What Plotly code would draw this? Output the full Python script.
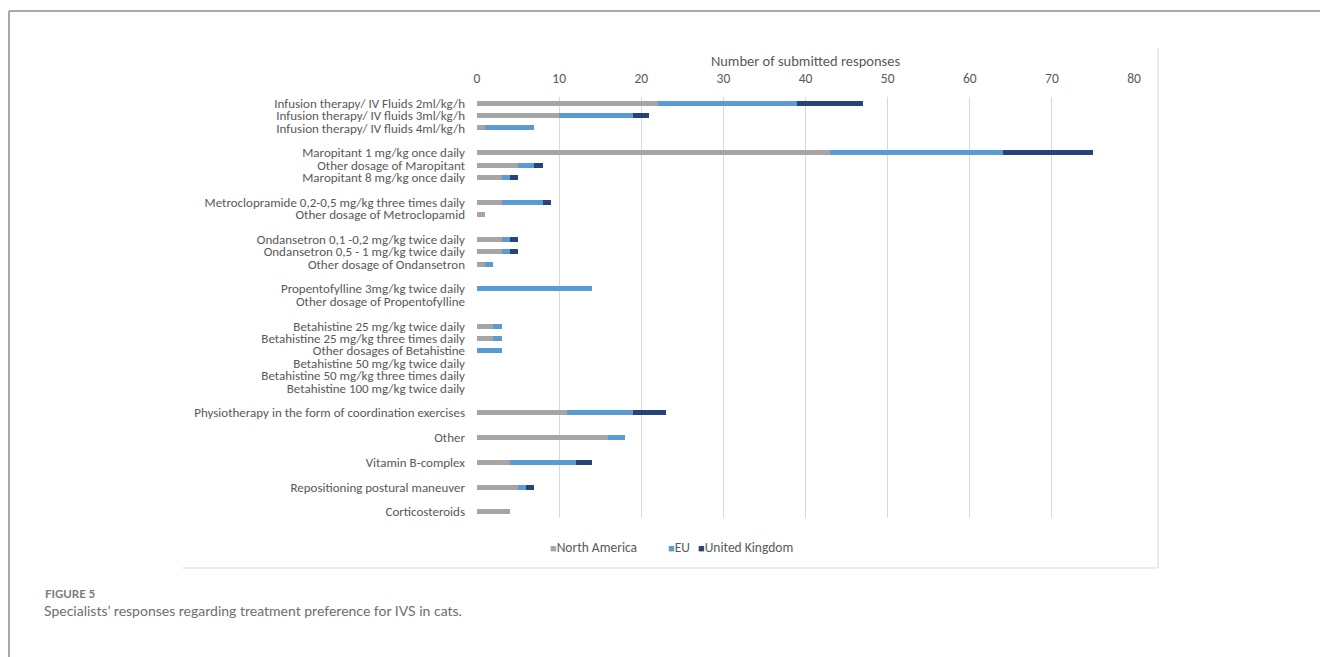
import plotly.graph_objects as go

# Groups of treatments (a blank row separates consecutive groups)
groups = [
    ["Infusion therapy/ IV Fluids 2ml/kg/h",
     "Infusion therapy/ IV fluids 3ml/kg/h",
     "Infusion therapy/ IV fluids 4ml/kg/h"],
    ["Maropitant 1 mg/kg once daily",
     "Other dosage of Maropitant",
     "Maropitant 8 mg/kg once daily"],
    ["Metroclopramide 0,2-0,5 mg/kg three times daily",
     "Other dosage of Metroclopamid"],
    ["Ondansetron 0,1 -0,2 mg/kg twice daily",
     "Ondansetron 0,5 - 1 mg/kg twice daily",
     "Other dosage of Ondansetron"],
    ["Propentofylline 3mg/kg twice daily",
     "Other dosage of Propentofylline"],
    ["Betahistine 25 mg/kg twice daily",
     "Betahistine 25 mg/kg three times daily",
     "Other dosages of Betahistine",
     "Betahistine 50 mg/kg twice daily",
     "Betahistine 50 mg/kg three times daily",
     "Betahistine 100 mg/kg twice daily"],
    ["Physiotherapy in the form of coordination exercises"],
    ["Other"],
    ["Vitamin B-complex"],
    ["Repositioning postural maneuver"],
    ["Corticosteroids"],
]

north_america = [22, 10, 1,
                 43, 5, 3,
                 3, 1,
                 3, 3, 1,
                 0, 0,
                 2, 2, 0, 0, 0, 0,
                 11, 16, 4, 5, 4]
eu = [17, 9, 6,
      21, 2, 1,
      5, 0,
      1, 1, 1,
      14, 0,
      1, 1, 3, 0, 0, 0,
      8, 2, 8, 1, 0]
united_kingdom = [8, 2, 0,
                  11, 1, 1,
                  1, 0,
                  1, 1, 0,
                  0, 0,
                  0, 0, 0, 0, 0, 0,
                  4, 0, 2, 1, 0]

x_ticks = [0, 10, 20, 30, 40, 50, 60, 70, 80]

# Build row positions with a spacer row between groups
labels, positions = [], []
row = 0
for gi, g in enumerate(groups):
    for name in g:
        labels.append(name)
        positions.append(row)
        row += 1
    row += 1  # blank spacer
n_rows = positions[-1] + 1

series = [
    ("North America", north_america, "#a5a5a5"),
    ("EU", eu, "#5b9bd5"),
    ("United Kingdom", united_kingdom, "#264478"),
]

fig = go.Figure()
for name, vals, col in series:
    fig.add_trace(go.Bar(
        name=name, x=vals, y=positions, orientation="h",
        marker=dict(color=col, line=dict(width=0)), width=0.4,
        showlegend=False,
    ))

W, H = 1320, 657
L, R, T, B = 477, 1134, 97, 518


def px(x):
    return (x - L) / (R - L)


def py(y):
    return (B - y) / (B - T)


font_family = "Carlito, 'Liberation Sans', Arial, sans-serif"
txt_col = "#595959"

shapes = [
    # page frame
    dict(type="line", xref="paper", yref="paper", x0=px(9), x1=px(1320), y0=py(11), y1=py(11),
         line=dict(color="#a8a8a8", width=2)),
    dict(type="line", xref="paper", yref="paper", x0=px(9), x1=px(9), y0=py(11), y1=py(657),
         line=dict(color="#a8a8a8", width=2)),
    # chart box
    dict(type="line", xref="paper", yref="paper", x0=px(1158), x1=px(1158), y0=py(48), y1=py(568),
         line=dict(color="#d9d9d9", width=1)),
    dict(type="line", xref="paper", yref="paper", x0=px(183), x1=px(1158), y0=py(568), y1=py(568),
         line=dict(color="#d9d9d9", width=1)),
]

# Legend drawn as text (series names and colours from the series list)
legend_x = [548, 666, 696]
annotations = []
for (name, _, col), lx in zip(series, legend_x):
    annotations.append(dict(
        text=f"<span style='color:{col};font-size:11px'>■</span>{name}",
        xref="paper", yref="paper", x=px(lx), y=py(547),
        xanchor="left", yanchor="middle", showarrow=False,
        font=dict(family=font_family, size=13.5, color=txt_col)))

annotations += [
    dict(text="<b>FIGURE 5</b>", xref="paper", yref="paper", x=px(43), y=py(593),
         xanchor="left", yanchor="middle", showarrow=False,
         font=dict(family="Lato, 'Open Sans', sans-serif", size=11.5, color="#7b7b7b")),
    dict(text="Specialists’ responses regarding treatment preference for IVS in cats.",
         xref="paper", yref="paper", x=px(42), y=py(610),
         xanchor="left", yanchor="middle", showarrow=False,
         font=dict(family="Lato, 'Open Sans', sans-serif", size=14, color="#6e6e6e")),
]

fig.update_layout(
    width=W, height=H,
    margin=dict(l=L, r=W - R, t=T, b=H - B, pad=0),
    paper_bgcolor="white", plot_bgcolor="white",
    barmode="stack",
    font=dict(family=font_family, size=13, color=txt_col),
    showlegend=False,
    shapes=shapes,
    annotations=annotations,
    xaxis=dict(
        side="top", range=[0, 80], tickvals=x_ticks, ticktext=[str(v) for v in x_ticks],
        showgrid=True, gridcolor="#d9d9d9", gridwidth=1, zeroline=False, showline=False,
        ticks="", ticklabelstandoff=10, tickfont=dict(size=13.5, color=txt_col),
        title=dict(text="Number of submitted responses", standoff=0,
                   font=dict(size=14.5, color=txt_col)),
        fixedrange=True,
    ),
    yaxis=dict(
        range=[n_rows - 0.5, -0.5], tickvals=positions, ticktext=labels,
        showgrid=False, zeroline=False, showline=False, ticks="",
        ticklabelstandoff=11, tickfont=dict(size=13, color=txt_col),
        fixedrange=True,
    ),
)

fig.write_html("out.html")
